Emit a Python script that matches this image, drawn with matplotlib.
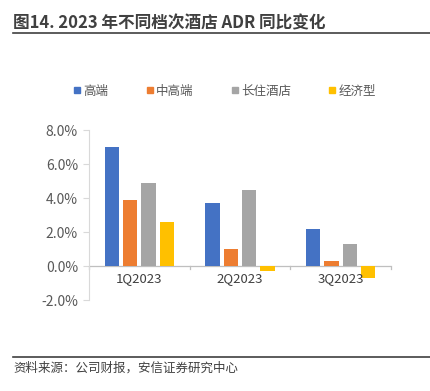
import numpy as np
import matplotlib.pyplot as plt
from matplotlib.lines import Line2D

plt.rcParams['font.family'] = ['Noto Sans CJK SC', 'DejaVu Sans']

# data (%)
quarters = ['1Q2023', '2Q2023', '3Q2023']
series_names = ['高端', '中高端', '长住酒店', '经济型']
high_end = [7.0, 3.7, 2.2]
mid_high = [3.9, 1.0, 0.3]
long_stay = [4.9, 4.5, 1.3]
economy = [2.6, -0.3, -0.7]
colors = ['#4472c4', '#ed7d31', '#a5a5a5', '#ffc000']

fig = plt.figure(figsize=(4.31, 3.91), dpi=100)
ax = fig.add_axes([89/431, 1-300/391, 302/431, 170/391])

x = np.arange(len(quarters))
w = 0.14
step = 0.182
all_series = [high_end, mid_high, long_stay, economy]
for i, vals in enumerate(all_series):
    ax.bar(x + (i - 1.5)*step, vals, width=w, color=colors[i], label=series_names[i], zorder=3)

ax.set_xlim(-0.5, 2.5)
ax.set_ylim(-2, 8)
ax.set_yticks([-2, 0, 2, 4, 6, 8])
ax.set_yticklabels(['-2.0%', '0.0%', '2.0%', '4.0%', '6.0%', '8.0%'])
ax.tick_params(axis='y', length=4, color='#d9d9d9', labelsize=10, labelcolor='#595959', pad=4)

for s in ['top', 'right', 'bottom']:
    ax.spines[s].set_visible(False)
ax.spines['left'].set_color('#d9d9d9')

# x axis at zero with boundary ticks
ax.axhline(0, color='#bfbfbf', linewidth=0.9, zorder=2)
ax.set_xticks([])
for b in [-0.5, 0.5, 1.5, 2.5]:
    ax.plot([b, b], [0, -0.15], color='#bfbfbf', linewidth=0.9, clip_on=False)
for xi, q in zip(x, quarters):
    ax.text(xi, -0.35, q, ha='center', va='top', fontsize=9.5, color='#404040')

# legend
handles = [Line2D([], [], marker='s', linestyle='none', markersize=5, color=c) for c in colors]
fig.legend(handles, series_names, loc='center', bbox_to_anchor=(0.52, 1-91/391), ncol=4,
           frameon=False, fontsize=9, handletextpad=0.1, columnspacing=2.9,
           labelcolor='#595959', handlelength=0.8)

# title and lines
fig.text(13/431, 1-23/391, '图14. 2023 年不同档次酒店 ADR 同比变化', fontsize=12,
         fontweight='bold', color='#404040', va='center', ha='left')
fig.add_artist(Line2D([13/431, 430/431], [1-33/391, 1-33/391], color='#404040', linewidth=1.2))
fig.add_artist(Line2D([13/431, 430/431], [1-357/391, 1-357/391], color='#404040', linewidth=1.2))
fig.text(13/431, 1-368/391, '资料来源：公司财报，安信证券研究中心', fontsize=9,
         style='italic', color='#404040', va='center', ha='left')

fig.savefig('out.png', dpi=100)
